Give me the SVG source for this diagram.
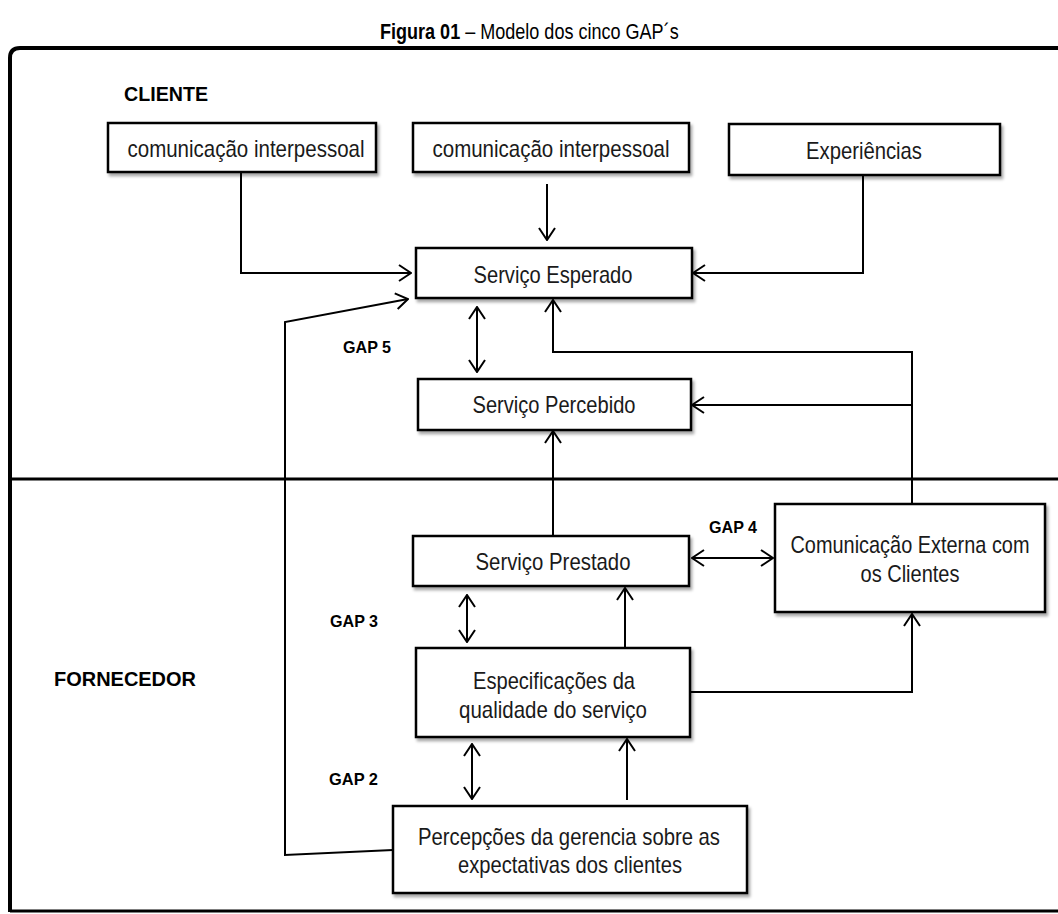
<svg xmlns="http://www.w3.org/2000/svg" width="1058" height="914" viewBox="0 0 1058 914">
<style>
.box{fill:#fff;stroke:#000;stroke-width:2.5;filter:url(#sh)}
.t{font-family:"Liberation Sans",Arial,sans-serif;font-size:24px;fill:#1a1a1a;text-anchor:middle}
.g{font-family:"Liberation Sans",Arial,sans-serif;font-size:17px;font-weight:bold;fill:#000}
.lbl{font-family:"Liberation Sans",Arial,sans-serif;font-size:21px;font-weight:bold;fill:#000}
.ti{font-family:"Liberation Sans",Arial,sans-serif;font-size:22px;fill:#000}
.c{fill:none;stroke:#000;stroke-width:2}
.a{marker-end:url(#ah)}
.d{marker-start:url(#ah);marker-end:url(#ah)}
</style>
<defs>
<filter id="sh" x="-10%" y="-10%" width="130%" height="140%">
<feDropShadow dx="2" dy="3" stdDeviation="1.6" flood-color="#000" flood-opacity="0.35"/>
</filter>
<marker id="ah" markerUnits="userSpaceOnUse" viewBox="0 0 14 18" markerWidth="14" markerHeight="18" refX="13" refY="9" orient="auto-start-reverse">
<path d="M1,1 L13,9 L1,17" fill="none" stroke="#000" stroke-width="2"/>
</marker>
</defs>
<rect width="1058" height="914" fill="#fff"/>
<g id="title" transform="translate(380,39) scale(0.82,1)"><text class="ti" x="0" y="0"><tspan font-weight="bold">Figura 01</tspan> – Modelo dos cinco GAP´s</text></g>
<g id="frame">
<path d="M10,912 V58 Q10,48 20,48 H1058" fill="none" stroke="#000" stroke-width="4"/>
<path d="M10,911 H1058" fill="none" stroke="#000" stroke-width="3"/>
<path d="M10,479 H1058" fill="none" stroke="#000" stroke-width="3"/>
</g>
<text class="lbl" x="124" y="101" textLength="84" lengthAdjust="spacingAndGlyphs">CLIENTE</text>
<text class="lbl" x="54" y="686" textLength="142" lengthAdjust="spacingAndGlyphs">FORNECEDOR</text>
<g id="connectors">
<path class="c a" d="M241,173 V273 H411"/>
<path class="c a" d="M547,184 V240"/>
<path class="c a" d="M863,175 V273 H693"/>
<path class="c d" d="M477,307 V372"/>
<path class="c a" d="M912,504 V352 H553 V300"/>
<path class="c a" d="M912,405 H692"/>
<path class="c a" d="M553,536 V431"/>
<path class="c d" d="M692,558 H773"/>
<path class="c d" d="M467,595 V642"/>
<path class="c a" d="M625,648 V588"/>
<path class="c a" d="M691,692 H912 V614"/>
<path class="c d" d="M472,744 V799"/>
<path class="c a" d="M627,800 V739"/>
<path class="c a" d="M393,850 L285,855 V322 L408,299"/>
<text class="g" x="343" y="353" textLength="48" lengthAdjust="spacingAndGlyphs">GAP 5</text>
<text class="g" x="709" y="533" textLength="48" lengthAdjust="spacingAndGlyphs">GAP 4</text>
<text class="g" x="330" y="627" textLength="48" lengthAdjust="spacingAndGlyphs">GAP 3</text>
<text class="g" x="329" y="785" textLength="49" lengthAdjust="spacingAndGlyphs">GAP 2</text>
</g>
<g id="n1"><rect class="box" x="108" y="123" width="268" height="49"/><text class="t" x="246" y="157" textLength="237" lengthAdjust="spacingAndGlyphs">comunicação interpessoal</text></g>
<g id="n2"><rect class="box" x="413" y="123" width="276" height="49"/><text class="t" x="551" y="157" textLength="237" lengthAdjust="spacingAndGlyphs">comunicação interpessoal</text></g>
<g id="n3"><rect class="box" x="729" y="124" width="271" height="51"/><text class="t" x="864" y="159" textLength="116" lengthAdjust="spacingAndGlyphs">Experiências</text></g>
<g id="n4"><rect class="box" x="416" y="248" width="276" height="50"/><text class="t" x="553" y="283" textLength="159" lengthAdjust="spacingAndGlyphs">Serviço Esperado</text></g>
<g id="n5"><rect class="box" x="418" y="379" width="273" height="51"/><text class="t" x="554" y="413" textLength="163" lengthAdjust="spacingAndGlyphs">Serviço Percebido</text></g>
<g id="n6"><rect class="box" x="413" y="536" width="276" height="50"/><text class="t" x="553" y="570" textLength="155" lengthAdjust="spacingAndGlyphs">Serviço Prestado</text></g>
<g id="n7"><rect class="box" x="775" y="504" width="270" height="108"/><g transform="translate(910,553) scale(0.83,1)"><text class="t" x="0" y="0">Comunicação Externa com</text></g><text class="t" x="910" y="582" textLength="99" lengthAdjust="spacingAndGlyphs">os Clientes</text></g>
<g id="n8"><rect class="box" x="416" y="648" width="274" height="89"/><text class="t" x="554" y="689" textLength="162" lengthAdjust="spacingAndGlyphs">Especificações da</text><text class="t" x="553" y="718" textLength="188" lengthAdjust="spacingAndGlyphs">qualidade do serviço</text></g>
<g id="n9"><rect class="box" x="393" y="806" width="354" height="87"/><text class="t" x="569" y="845" textLength="302" lengthAdjust="spacingAndGlyphs">Percepções da gerencia sobre as</text><text class="t" x="570" y="873" textLength="224" lengthAdjust="spacingAndGlyphs">expectativas dos clientes</text></g>
</svg>
